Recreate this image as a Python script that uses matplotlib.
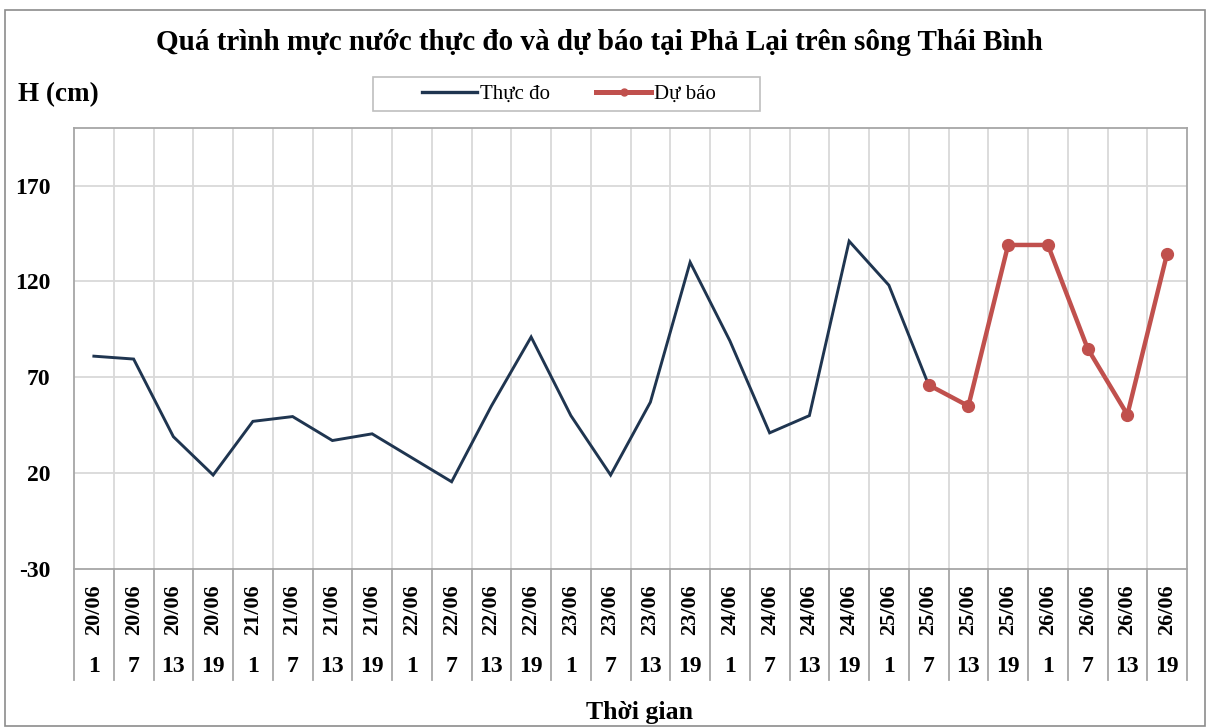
import matplotlib
matplotlib.use("Agg")
import matplotlib.pyplot as plt
from matplotlib.lines import Line2D
from matplotlib.patches import Rectangle
import matplotlib.transforms as mtransforms

# ---- data ----
dates = ["20/06"] * 4 + ["21/06"] * 4 + ["22/06"] * 4 + ["23/06"] * 4 + \
        ["24/06"] * 4 + ["25/06"] * 4 + ["26/06"] * 4
hours = ["1", "7", "13", "19"] * 7
observed = [81, 79.5, 39, 19, 47, 49.5, 37, 40.5, 28, 15.5, 55, 91,
            50, 19, 57, 130, 89, 41, 50, 141, 118, 66]
forecast = [66, 55, 139, 139, 85, 50.5, 134.5]
forecast_start = 21
yticks = [-30, 20, 70, 120, 170]
ylim = (-30, 200)

title = "Quá trình mực nước thực đo và dự báo tại Phả Lại trên sông Thái Bình"
ylabel = "H (cm)"
xlabel = "Thời gian"
legend_labels = ["Thực đo", "Dự báo"]

# ---- style ----
W, H = 1212, 727
SERIF = ["Liberation Serif", "DejaVu Serif"]
plt.rcParams["font.family"] = SERIF
navy = "#1f3550"
red = "#c0504d"
grid_c = "#d9d9d9"
spine_c = "#a6a6a6"

fig = plt.figure(figsize=(W / 100, H / 100), dpi=100)

def fy(y):
    return 1 - y / H

def fx(x):
    return x / W

# outer border
fig.patches.append(Rectangle((fx(5), fy(726)), fx(1205) - fx(5), fy(10) - fy(726),
                             transform=fig.transFigure, fill=False,
                             edgecolor="#8c8c8c", linewidth=1.2))

L, R, T, B = 74, 1187, 128, 569
ax = fig.add_axes([fx(L), fy(B), fx(R) - fx(L), fy(T) - fy(B)])

n = len(dates)
xs = list(range(n))
ax.set_xlim(-0.5, n - 0.5)
ax.set_ylim(*ylim)
ax.set_yticks(yticks)
ax.set_yticklabels([str(v) for v in yticks], fontsize=17, fontweight="bold")
ax.tick_params(axis="y", length=0, pad=17)
ax.set_xticks([])
for s in ax.spines.values():
    s.set_color(spine_c)
    s.set_linewidth(1.3)

for v in yticks[1:]:
    ax.axhline(v, color=grid_c, linewidth=1.3, zorder=0)
for k in range(n - 1):
    ax.axvline(k + 0.5, color=grid_c, linewidth=1.3, zorder=0)

ax.plot(xs[:len(observed)], observed, color=navy, linewidth=2.1, zorder=3,
        solid_joinstyle="miter")
fx_x = xs[forecast_start:forecast_start + len(forecast)]
ax.plot(fx_x, forecast, color=red, linewidth=3.2, marker="o", markersize=8.5,
        zorder=4)

# category axis (two levels)
trans = mtransforms.blended_transform_factory(ax.transData, fig.transFigure)
for k in range(n + 1):
    xb = k - 0.5
    ax.add_line(Line2D([xb, xb], [fy(B), fy(680)], transform=trans,
                       color=spine_c, linewidth=1.3, clip_on=False))
for k in range(n):
    ax.text(k, fy(610), dates[k], transform=trans, rotation=90,
            ha="center", va="center", fontsize=16, fontweight="bold")
    ax.text(k, fy(666), hours[k], transform=trans,
            ha="center", va="center", fontsize=17, fontweight="bold")

# titles
fig.text(fx(599), fy(42), title, ha="center", va="center",
         fontsize=21, fontweight="bold")
fig.text(fx(18), fy(95), ylabel, ha="left", va="center",
         fontsize=19.5, fontweight="bold")
fig.text(fx(640), fy(712), xlabel, ha="center", va="center",
         fontsize=18.5, fontweight="bold")

# legend
fig.patches.append(Rectangle((fx(373), fy(111)), fx(760) - fx(373), fy(77) - fy(111),
                             transform=fig.transFigure, fill=False,
                             edgecolor="#bfbfbf", linewidth=1.2))
handles = [Line2D([], [], color=navy, linewidth=2.4),
           Line2D([], [], color=red, linewidth=3.6, marker="o", markersize=5)]
leg = fig.legend(handles, legend_labels, loc="center",
                 bbox_to_anchor=(fx(569), fy(94)), ncol=2, frameon=False,
                 fontsize=15, handlelength=2.65, handletextpad=0.15,
                 columnspacing=2.2, borderpad=0.2)

fig.savefig("out.png", dpi=100)
